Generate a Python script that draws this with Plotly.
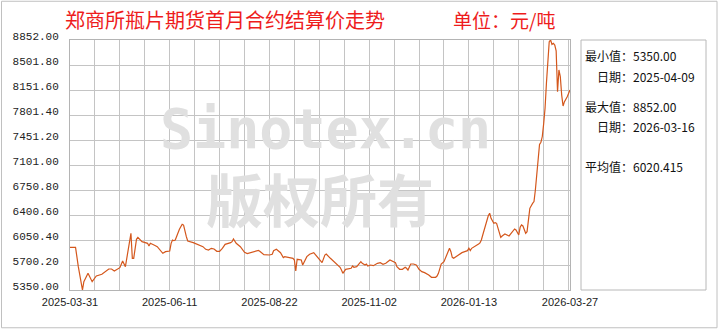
import plotly.graph_objects as go

# ---- data ----
dates = [
    "2025-03-31", "2025-04-04", "2025-04-06", "2025-04-09", "2025-04-10", "2025-04-13", "2025-04-16",
    "2025-04-19", "2025-04-23", "2025-04-26", "2025-04-28", "2025-04-30", "2025-05-02", "2025-05-06",
    "2025-05-08", "2025-05-10", "2025-05-14", "2025-05-15", "2025-05-16", "2025-05-18", "2025-05-19",
    "2025-05-22", "2025-05-25", "2025-05-26", "2025-05-27", "2025-05-28", "2025-05-31", "2025-06-02",
    "2025-06-06", "2025-06-08", "2025-06-11", "2025-06-12", "2025-06-13", "2025-06-14", "2025-06-15",
    "2025-06-18", "2025-06-20", "2025-06-21", "2025-06-23", "2025-06-24", "2025-06-28", "2025-07-03",
    "2025-07-05", "2025-07-07", "2025-07-09", "2025-07-11", "2025-07-13", "2025-07-15", "2025-07-17",
    "2025-07-19", "2025-07-21", "2025-07-25", "2025-07-26", "2025-07-27", "2025-07-28", "2025-07-29",
    "2025-08-01", "2025-08-04", "2025-08-06", "2025-08-08", "2025-08-12", "2025-08-14", "2025-08-15",
    "2025-08-18", "2025-08-22", "2025-08-24", "2025-08-25", "2025-08-27", "2025-08-30", "2025-09-01",
    "2025-09-02", "2025-09-06", "2025-09-08", "2025-09-09", "2025-09-10", "2025-09-11", "2025-09-13",
    "2025-09-14", "2025-09-15", "2025-09-18", "2025-09-20", "2025-09-23", "2025-09-24", "2025-09-27",
    "2025-09-29", "2025-10-01", "2025-10-02", "2025-10-05", "2025-10-08", "2025-10-12", "2025-10-13",
    "2025-10-14", "2025-10-16", "2025-10-20", "2025-10-21", "2025-10-22", "2025-10-24", "2025-10-27",
    "2025-10-28", "2025-10-30", "2025-10-31", "2025-11-01", "2025-11-03", "2025-11-05", "2025-11-08",
    "2025-11-10", "2025-11-12", "2025-11-14", "2025-11-17", "2025-11-19", "2025-11-21", "2025-11-22",
    "2025-11-24", "2025-11-26", "2025-11-28", "2025-11-29", "2025-11-30", "2025-12-02", "2025-12-04",
    "2025-12-06", "2025-12-08", "2025-12-10", "2025-12-12", "2025-12-15", "2025-12-17", "2025-12-20",
    "2025-12-21", "2025-12-22", "2025-12-23", "2025-12-24", "2025-12-26", "2025-12-27", "2025-12-28",
    "2025-12-29", "2025-12-30", "2025-12-31", "2026-01-01", "2026-01-02", "2026-01-03", "2026-01-05",
    "2026-01-08", "2026-01-10", "2026-01-12", "2026-01-13", "2026-01-14", "2026-01-15", "2026-01-18",
    "2026-01-20", "2026-01-21", "2026-01-22", "2026-01-23", "2026-01-24", "2026-01-25", "2026-01-26",
    "2026-01-27", "2026-01-28", "2026-01-29", "2026-01-31", "2026-02-01", "2026-02-02", "2026-02-03",
    "2026-02-05", "2026-02-06", "2026-02-08", "2026-02-11", "2026-02-13", "2026-02-15", "2026-02-16",
    "2026-02-18", "2026-02-19", "2026-02-20", "2026-02-21", "2026-02-23", "2026-02-24", "2026-02-25",
    "2026-02-26", "2026-02-28", "2026-03-01", "2026-03-02", "2026-03-03", "2026-03-04", "2026-03-05",
    "2026-03-06", "2026-03-07", "2026-03-08", "2026-03-09", "2026-03-10", "2026-03-11", "2026-03-12",
    "2026-03-13", "2026-03-14", "2026-03-15", "2026-03-16", "2026-03-17", "2026-03-18", "2026-03-19",
    "2026-03-20", "2026-03-21", "2026-03-22", "2026-03-23", "2026-03-25", "2026-03-27",
]
prices = [
    5948, 5948, 5677, 5350, 5467, 5584, 5467,
    5546, 5570, 5607, 5644, 5644, 5616, 5663,
    5756, 5677, 6144, 5794, 5794, 6060, 6088,
    6027, 6004, 6004, 5966, 6004, 5976, 5957,
    5864, 5887, 5896, 6004, 6050, 6041, 6050,
    6200, 6270, 6260, 6097, 6036, 6013, 5980,
    5957, 5920, 5910, 5934, 5924, 5892, 5892,
    5934, 5990, 6013, 6027, 6064, 6036, 6004,
    5957, 5878, 5859, 5873, 5892, 5906, 5892,
    5845, 5840, 5850, 5901, 5920, 5873, 5803,
    5817, 5808, 5794, 5770, 5616, 5780, 5780,
    5770, 5700, 5817, 5850, 5873, 5850, 5770,
    5733, 5840, 5854, 5794, 5738, 5668, 5630,
    5584, 5640, 5654, 5686, 5668, 5677, 5747,
    5724, 5700, 5714, 5686, 5700, 5691, 5724,
    5733, 5710, 5724, 5770, 5756, 5733, 5677,
    5640, 5640, 5668, 5654, 5630, 5714, 5714,
    5700, 5640, 5607, 5593, 5560, 5528, 5528,
    5546, 5584, 5640, 5714, 5747, 5794, 5826,
    5887, 5934, 5887, 5808, 5794, 5808, 5841,
    5873, 5887, 5901, 5934, 5901, 5934, 5966,
    5995, 6010, 6050, 6120, 6190, 6260, 6330,
    6390, 6425, 6354, 6284, 6293, 6284, 6214,
    6088, 6107, 6135, 6107, 6158, 6205, 6191,
    6121, 6228, 6261, 6247, 6144, 6167, 6331,
    6494, 6564, 6588, 6750, 6960, 7241, 7390,
    7420, 7500, 7680, 7900, 8250, 8570, 8829,
    8852, 8790, 8805, 8782, 8700, 8128, 8432,
    8340, 8080, 7928, 7988, 8058, 8152,
]
x_tick_labels = ["2025-03-31", "2025-06-11", "2025-08-22", "2025-11-02", "2026-01-13", "2026-03-27"]
y_ticks = [5350.00, 5700.20, 6050.40, 6400.60, 6750.80, 7101.00, 7451.20, 7801.40, 8151.60, 8501.80, 8852.00]
y_tick_labels = ["%.2f" % v for v in y_ticks]

title_text = "郑商所瓶片期货首月合约结算价走势"
unit_text = "单位：元/吨"
stats_lines = [
    ("最小值：5350.00", 0.936, 1.026),
    ("日期：2025-04-09", 0.856, 1.050),
    ("最大值：8852.00", 0.736, 1.026),
    ("日期：2026-03-16", 0.656, 1.050),
    ("平均值：6020.415", 0.496, 1.026),
]

GRID = "#c4c4c4"
CJK = "Noto Sans CJK SC"

fig = go.Figure()
fig.add_trace(go.Scatter(
    x=dates, y=prices, mode="lines",
    line=dict(color="#d4571c", width=1.2),
    hoverinfo="x+y", showlegend=False,
))

annotations = [
    dict(text="Sinotex.cn", x=0.51, y=0.645, xref="paper", yref="paper", showarrow=False,
         font=dict(family="DejaVu Sans Mono", size=55, color="#e0e0e0", weight="bold")),
    dict(text="版权所有", x=0.5, y=0.372, xref="paper", yref="paper", showarrow=False,
         font=dict(family=CJK, size=57, color="#e0e0e0", weight="bold")),
    dict(text=title_text, x=-0.014, y=1.08, xref="paper", yref="paper", showarrow=False,
         xanchor="left", yanchor="middle", font=dict(family=CJK, size=20, color="#ee1c1c")),
    dict(text=unit_text, x=0.762, y=1.08, xref="paper", yref="paper", showarrow=False,
         xanchor="left", yanchor="middle", font=dict(family=CJK, size=19, color="#ee1c1c")),
]
for txt, yy, xx in stats_lines:
    annotations.append(dict(text=txt, x=xx, y=yy, xref="paper", yref="paper", showarrow=False,
                            xanchor="left", yanchor="middle",
                            font=dict(family=CJK, size=12, color="#111111")))

shapes = [
    dict(type="rect", xref="paper", yref="paper", x0=1.022, x1=1.272, y0=0.0, y1=1.0,
         line=dict(color="#b8b8b8", width=1), fillcolor="rgba(0,0,0,0)"),
    dict(type="rect", xref="paper", yref="paper", x0=-0.137, x1=1.294, y0=-0.151, y1=1.155,
         line=dict(color="#c0c0c0", width=1), fillcolor="rgba(0,0,0,0)"),
]

fig.update_layout(
    width=720, height=330,
    margin=dict(l=70, r=150, t=40, b=40),
    paper_bgcolor="white", plot_bgcolor="white",
    annotations=annotations, shapes=shapes,
    xaxis=dict(
        type="date", range=["2025-03-31", "2026-03-27"],
        tickvals=x_tick_labels, ticktext=x_tick_labels,
        showgrid=True, gridcolor=GRID, gridwidth=1,
        minor=dict(dtick=18 * 86400000, tick0="2025-03-31", showgrid=True, gridcolor=GRID, gridwidth=1),
        showline=True, linecolor="#b4b4b4", mirror=True,
        ticks="", tickfont=dict(family="Liberation Sans", size=11, color="#222222"),
        ticklabelstandoff=2, zeroline=False,
    ),
    yaxis=dict(
        range=[5350, 8852], tickvals=y_ticks, ticktext=y_tick_labels,
        showgrid=True, gridcolor=GRID, gridwidth=1,
        showline=True, linecolor="#b4b4b4", mirror=True,
        ticks="", tickfont=dict(family="Liberation Mono", size=11, color="#222222"),
        ticklabelstandoff=8, ticklabelshift=-4, zeroline=False,
    ),
)

fig.write_html("out.html")
